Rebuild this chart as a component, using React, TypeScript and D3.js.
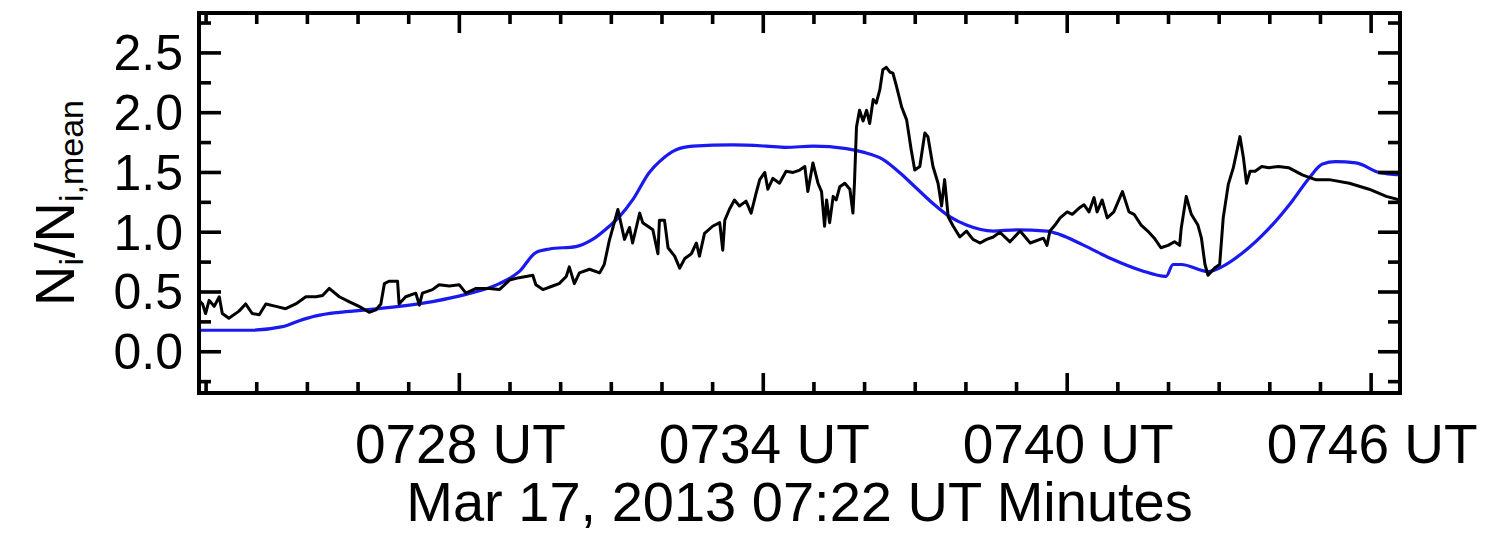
import React from "react";
import * as d3 from "d3";

// time in minutes after 07:00 UT
const blackT = [22.86,22.93,22.99,23.06,23.16,23.26,23.32,23.45,23.65,23.78,23.91,24.05,24.18,24.38,24.57,24.77,24.97,25.17,25.30,25.43,25.63,25.82,26.02,26.22,26.35,26.45,26.52,26.61,26.78,26.81,26.94,27.14,27.21,27.27,27.47,27.60,27.80,28.00,28.13,28.33,28.59,28.79,28.99,29.18,29.45,29.51,29.65,29.84,29.97,30.11,30.17,30.27,30.37,30.57,30.77,30.86,30.96,31.13,31.26,31.36,31.42,31.56,31.62,31.72,31.82,31.92,31.95,32.05,32.12,32.25,32.35,32.45,32.58,32.68,32.74,32.84,33.00,33.14,33.20,33.24,33.33,33.43,33.53,33.66,33.76,33.86,33.93,34.03,34.09,34.19,34.32,34.45,34.59,34.72,34.82,34.88,34.98,35.08,35.15,35.21,35.25,35.31,35.38,35.44,35.51,35.61,35.71,35.77,35.80,35.84,35.90,35.97,36.04,36.10,36.17,36.23,36.30,36.36,36.43,36.50,36.56,36.63,36.73,36.83,36.92,36.99,37.09,37.19,37.25,37.35,37.45,37.52,37.58,37.65,37.75,37.88,38.01,38.14,38.28,38.41,38.54,38.67,38.87,39.07,39.27,39.53,39.60,39.66,39.76,39.86,40.00,40.10,40.23,40.33,40.43,40.53,40.59,40.69,40.79,40.92,41.09,41.22,41.32,41.46,41.59,41.72,41.85,41.99,42.12,42.22,42.25,42.35,42.45,42.58,42.65,42.72,42.78,42.91,43.01,43.08,43.18,43.28,43.35,43.41,43.48,43.54,43.61,43.71,43.84,43.98,44.17,44.37,44.64,44.90,45.17,45.57,45.96,46.30,46.57];
const blackV = [0.43,0.40,0.32,0.43,0.38,0.46,0.32,0.28,0.34,0.40,0.32,0.31,0.40,0.38,0.36,0.40,0.46,0.46,0.47,0.53,0.46,0.42,0.38,0.33,0.35,0.40,0.57,0.59,0.59,0.40,0.46,0.49,0.39,0.49,0.52,0.56,0.55,0.56,0.49,0.53,0.53,0.52,0.60,0.62,0.64,0.56,0.52,0.55,0.57,0.63,0.71,0.57,0.66,0.69,0.66,0.73,0.93,1.19,0.94,1.04,0.91,1.16,1.08,1.05,1.02,0.82,1.10,1.10,0.87,0.80,0.70,0.78,0.82,0.91,0.80,0.99,1.05,1.08,0.85,1.10,1.19,1.27,1.22,1.26,1.16,1.33,1.44,1.50,1.36,1.45,1.41,1.51,1.50,1.52,1.55,1.34,1.58,1.41,1.34,1.05,1.27,1.08,1.30,1.27,1.38,1.41,1.36,1.16,1.41,1.88,2.02,1.93,2.02,1.91,2.11,2.08,2.19,2.36,2.38,2.34,2.33,2.22,2.05,1.94,1.69,1.52,1.55,1.83,1.80,1.55,1.41,1.22,1.44,1.13,1.05,0.96,1.01,0.94,0.91,0.94,0.96,1.00,0.92,1.01,0.91,0.95,0.89,1.01,1.06,1.12,1.17,1.15,1.20,1.23,1.17,1.29,1.17,1.27,1.12,1.17,1.34,1.17,1.15,1.06,1.01,0.95,0.87,0.89,0.92,0.89,1.03,1.30,1.15,1.06,0.95,0.73,0.64,0.70,0.73,1.12,1.40,1.54,1.68,1.80,1.62,1.41,1.51,1.51,1.55,1.54,1.55,1.54,1.48,1.44,1.44,1.41,1.36,1.30,1.27];

const blueT = [22.86,23.85,24.51,24.84,25.17,25.63,26.15,26.81,27.47,28.13,28.79,29.18,29.51,29.78,30.30,30.63,30.96,31.16,31.42,31.75,31.95,32.28,32.61,33.40,34.06,34.45,34.98,35.64,35.97,36.36,36.69,37.02,37.35,37.68,38.01,38.54,39.00,39.60,39.86,40.33,40.86,41.46,41.95,42.09,42.25,42.78,43.05,43.44,43.98,44.44,44.77,45.04,45.30,45.70,46.16,46.57];
const blueV = [0.18,0.18,0.21,0.26,0.30,0.33,0.35,0.38,0.42,0.48,0.57,0.67,0.83,0.86,0.88,0.94,1.05,1.13,1.27,1.50,1.59,1.69,1.72,1.73,1.72,1.71,1.72,1.70,1.67,1.61,1.50,1.37,1.24,1.13,1.06,1.01,1.02,1.01,0.98,0.89,0.78,0.68,0.63,0.73,0.73,0.67,0.71,0.82,1.03,1.26,1.45,1.57,1.59,1.58,1.50,1.48];

const yMajor = [0, 0.5, 1.0, 1.5, 2.0, 2.5];
const yMinor = [-0.25, 0.25, 0.75, 1.25, 1.75, 2.25, 2.75];
const xMajor = [28, 34, 40, 46];
const xMajorLabels = ["0728 UT", "0734 UT", "0740 UT", "0746 UT"];
const xMinor = [23, 24, 25, 26, 27, 29, 30, 31, 32, 33, 35, 36, 37, 38, 39, 41, 42, 43, 44, 45];
const xTitle = "Mar 17, 2013 07:22 UT Minutes";

const W = 1486, H = 533;
const L = 199, R = 1400, T = 13, B = 393;
const FONT = "'Liberation Sans', Arial, Helvetica, sans-serif";

export default function App() {
  const x = d3.scaleLinear().domain([22.86, 46.57]).range([L, R]);
  const y = d3.scaleLinear().domain([-0.345, 2.834]).range([B, T]);
  const black = blackT.map((t, i) => [t, blackV[i]] as [number, number]);
  const blue = blueT.map((t, i) => [t, blueV[i]] as [number, number]);
  const line = d3.line<[number, number]>().x(d => x(d[0])).y(d => y(d[1]));
  const blueLine = d3.line<[number, number]>().x(d => x(d[0])).y(d => y(d[1])).curve(d3.curveMonotoneX);
  const majL = 22, minL = 12, xmajL = 20, xminL = 11;
  return (
    <svg width={W} height={H} style={{ position: "absolute", left: 0, top: 0, background: "#fff" }} fontFamily={FONT}>
      <rect x={0} y={0} width={W} height={H} fill="#fff" />
      <defs>
        <clipPath id="plot"><rect x={L} y={T} width={R - L} height={B - T} /></clipPath>
      </defs>
      <g clipPath="url(#plot)" fill="none" strokeLinejoin="round">
        <path d={blueLine(blue) || ""} stroke="#1a1af0" strokeWidth={3.2} />
        <path d={line(black) || ""} stroke="#000" strokeWidth={3} />
      </g>
      <g stroke="#000" strokeWidth={3.6}>
        {yMajor.map(v => (
          <g key={"ym" + v}>
            <line x1={L} x2={L + majL} y1={y(v)} y2={y(v)} />
            <line x1={R} x2={R - majL} y1={y(v)} y2={y(v)} />
          </g>
        ))}
        {yMinor.map(v => (
          <g key={"yn" + v}>
            <line x1={L} x2={L + minL} y1={y(v)} y2={y(v)} />
            <line x1={R} x2={R - minL} y1={y(v)} y2={y(v)} />
          </g>
        ))}
        {xMajor.map(t => (
          <g key={"xm" + t}>
            <line x1={x(t)} x2={x(t)} y1={B} y2={B - xmajL} />
            <line x1={x(t)} x2={x(t)} y1={T} y2={T + xmajL} />
          </g>
        ))}
        {xMinor.map(t => (
          <g key={"xn" + t}>
            <line x1={x(t)} x2={x(t)} y1={B} y2={B - xminL} />
            <line x1={x(t)} x2={x(t)} y1={T} y2={T + xminL} />
          </g>
        ))}
      </g>
      <rect x={L} y={T} width={R - L} height={B - T} fill="none" stroke="#000" strokeWidth={4} />
      {yMajor.map(v => (
        <text key={"yl" + v} x={183} y={y(v) + 17.5} fontSize={50} textAnchor="end" fill="#000">{v.toFixed(1)}</text>
      ))}
      {xMajor.map((t, i) => (
        <text key={"xl" + t} x={x(t) + 1} y={463} fontSize={55} textAnchor="middle" fill="#000">{xMajorLabels[i]}</text>
      ))}
      <text x={(L + R) / 2} y={521} fontSize={56} textAnchor="middle" fill="#000">{xTitle}</text>
      <text transform={`translate(74, ${(T + B) / 2}) rotate(-90)`} textAnchor="middle" fontSize={56} fill="#000">
        <tspan>N</tspan>
        <tspan fontSize={34} dy={9}>i</tspan>
        <tspan dy={-9}>/N</tspan>
        <tspan fontSize={34} dy={9}>i,mean</tspan>
      </text>
    </svg>
  );
}
